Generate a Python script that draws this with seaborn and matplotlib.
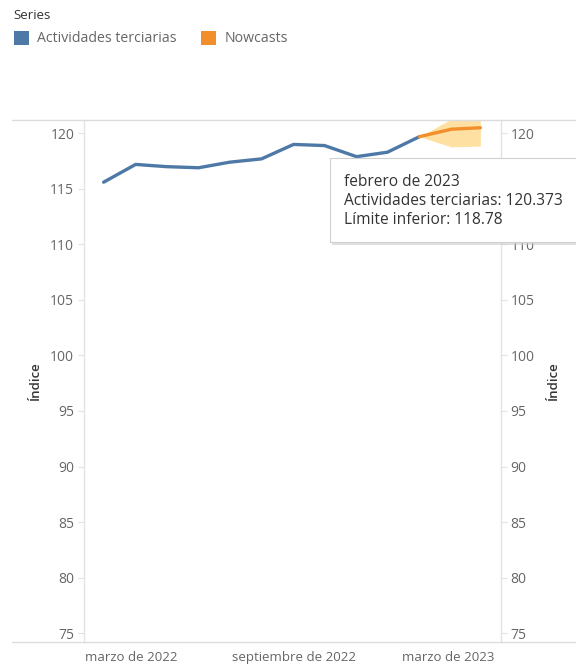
import matplotlib
matplotlib.use("Agg")
import matplotlib.pyplot as plt
import matplotlib.transforms as mtransforms
from matplotlib.patches import Patch, Rectangle
from matplotlib.lines import Line2D
import seaborn as sns
import pandas as pd
import numpy as np

# data
meses = pd.date_range("2022-03-01", "2023-03-01", freq="MS")
terciarias = [115.6, 117.2, 117.0, 116.9, 117.4, 117.7, 119.0, 118.9, 117.9, 118.3, 119.7]
nowcast = [119.7, 120.373, 120.5]
limite_inferior = [119.7, 118.78, 118.85]
limite_superior = [119.7, 121.3, 121.3]

y_ticks = [75, 80, 85, 90, 95, 100, 105, 110, 115, 120]
x_tick_fechas = pd.to_datetime(["2022-03-01", "2022-09-01", "2023-03-01"])
x_tick_labels = ["marzo de 2022", "septiembre de 2022", "marzo de 2023"]

tooltip = ["febrero de 2023", "Actividades terciarias: 120.373", "Límite inferior: 118.78"]

azul = "#4e79a7"
naranja = "#f28e2b"
gris_txt = "#666666"
gris_linea = "#e3e3e3"

sns.set_theme(style="white")
plt.rcParams["font.family"] = ["Open Sans", "DejaVu Sans"]

df_hist = pd.DataFrame({"fecha": meses[:len(terciarias)], "valor": terciarias})
df_now = pd.DataFrame({"fecha": meses[-len(nowcast):], "valor": nowcast,
                       "inf": limite_inferior, "sup": limite_superior})

fig = plt.figure(figsize=(5.76, 6.69), dpi=100)
ax = fig.add_axes([84 / 576, 1 - 642 / 669, (501 - 84) / 576, (642 - 120) / 669])

ax.fill_between(df_now["fecha"], df_now["inf"], df_now["sup"], color="#ffd98c", alpha=0.8, lw=0)
sns.lineplot(data=df_hist, x="fecha", y="valor", ax=ax, color=azul, lw=2.4)
sns.lineplot(data=df_now, x="fecha", y="valor", ax=ax, color=naranja, lw=2.4)

ax.set_xlim(pd.Timestamp("2022-02-10"), pd.Timestamp("2023-03-21"))
ax.set_ylim(74.2, 121.2)
ax.set_yticks(y_ticks)
ax.set_xticks(x_tick_fechas)
ax.set_xticklabels([])
ax.tick_params(axis="x", length=0)
# Tableau-style: edge labels pushed inside the pane
trans = mtransforms.blended_transform_factory(ax.transData, ax.transAxes)
offs = [28, 0, -32]
for f, lab, dx in zip(x_tick_fechas, x_tick_labels, offs):
    t = trans + mtransforms.ScaledTranslation(dx / 100, -9 / 100, fig.dpi_scale_trans)
    ax.text(f, 0, lab, transform=t, ha="center", va="top", fontsize=9.5, color=gris_txt)

ax.tick_params(axis="y", length=4, width=0.8, color=gris_linea, labelsize=10,
               labelcolor=gris_txt, pad=3, left=True)
ax.set_xlabel("")
ax.set_ylabel("Índice", fontsize=9.5, color="#333333", labelpad=6, fontweight="semibold")

for s in ["top", "bottom"]:
    ax.spines[s].set_visible(False)
for s in ["left", "right"]:
    ax.spines[s].set_color(gris_linea)
    ax.spines[s].set_linewidth(1.0)

ax2 = ax.twinx()
ax2.set_ylim(ax.get_ylim())
ax2.set_yticks(y_ticks)
# the 115 label sits under the tooltip in the original
ax2.set_yticklabels(["" if v == 115 else str(v) for v in y_ticks])
ax2.tick_params(axis="y", length=4, width=0.8, color=gris_linea, labelsize=10,
                labelcolor=gris_txt, pad=3, right=True)
ax2.set_ylabel("Índice", fontsize=9.5, color="#333333", labelpad=9, rotation=90,
               fontweight="semibold")
for s in ax2.spines.values():
    s.set_visible(False)

# pane borders across the figure
for yy in [120, 642]:
    fig.add_artist(Line2D([12 / 576, 1], [1 - yy / 669] * 2, color="#dcdcdc", lw=1.0,
                          transform=fig.transFigure))

# legend
handles = [Patch(facecolor=azul, edgecolor="none", label="Actividades terciarias"),
           Patch(facecolor=naranja, edgecolor="none", label="Nowcasts")]
leg = fig.legend(handles=handles, loc="upper left", bbox_to_anchor=(0.008, 1.0), ncol=2,
                 title="Series", frameon=False, fontsize=10.2, title_fontsize=9.5,
                 handlelength=1.05, handleheight=1.15, handletextpad=0.6, columnspacing=1.7,
                 alignment="left", borderaxespad=0.35, labelspacing=0.3, borderpad=0.3)
leg._legend_box.sep = 6
for t in leg.get_texts():
    t.set_color(gris_txt)
leg.get_title().set_color("#333333")

# tooltip box
x0, y0, w, h = 330 / 576, 1 - 242 / 669, 260 / 576, 84 / 669
fig.add_artist(Rectangle((x0 + 2 / 576, y0 - 3 / 669), w, h, transform=fig.transFigure,
                         facecolor="#cccccc", edgecolor="none", alpha=0.6, zorder=9))
fig.add_artist(Rectangle((x0, y0), w, h, transform=fig.transFigure,
                         facecolor="white", edgecolor="#d0d0d0", lw=0.8, zorder=10))
for i, linea in enumerate(tooltip):
    fig.text(344 / 576, 1 - (182 + 19 * i) / 669, linea, fontsize=11.2, color="#333333",
             va="center", ha="left", zorder=11)

fig.savefig("out.png", dpi=100)
